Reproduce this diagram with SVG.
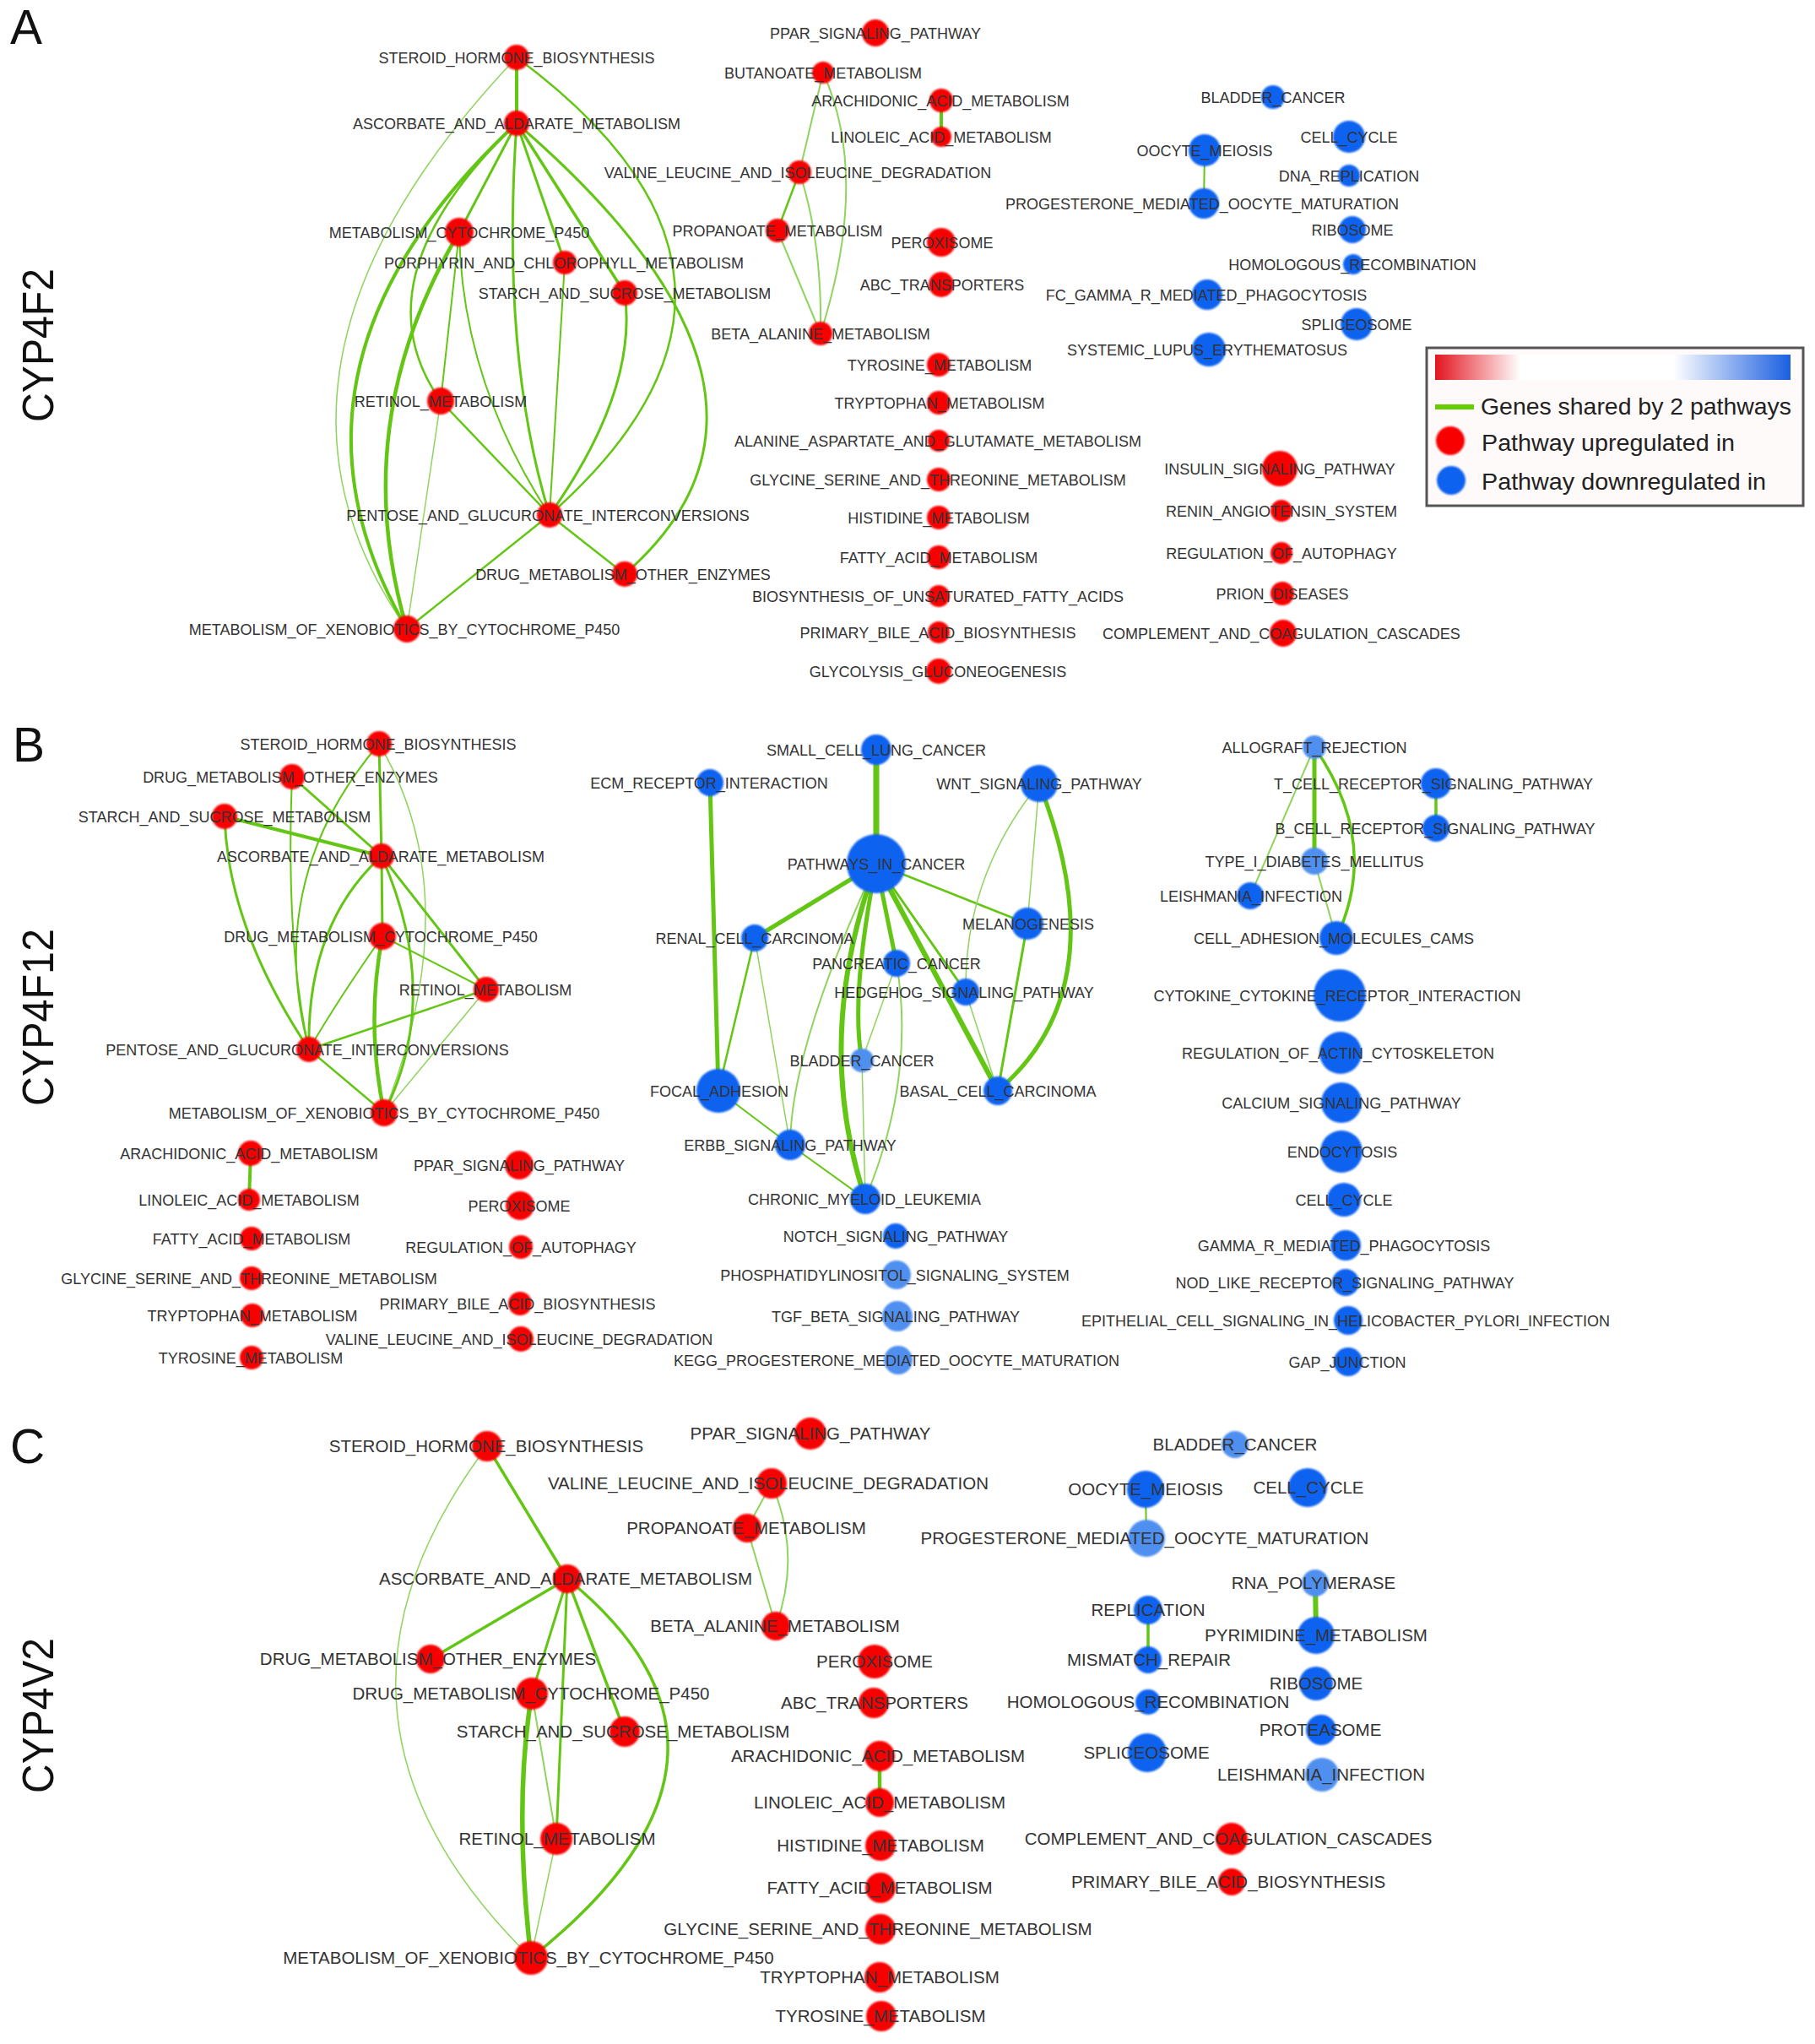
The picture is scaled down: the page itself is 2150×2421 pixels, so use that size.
<svg xmlns="http://www.w3.org/2000/svg" width="2150" height="2421" viewBox="0 0 2150 2421">
<defs>
<style>
.t{font-family:"Liberation Sans",Arial,sans-serif;font-size:18px;fill:#333;text-anchor:middle}
.tc{font-family:"Liberation Sans",Arial,sans-serif;font-size:20.5px;fill:#333;text-anchor:middle}
.r{fill:#f80000;filter:url(#soft)}
.b{fill:#1062f0;filter:url(#soft)}
.lb{fill:#4f8ff0;filter:url(#soft)}
.e{fill:none;stroke:#64c614;stroke-linecap:round}
.et{fill:none;stroke:#8fd45e;stroke-linecap:round}
.big{font-family:"Liberation Sans",Arial,sans-serif;fill:#111}
.leg{font-family:"Liberation Sans",Arial,sans-serif;font-size:28.5px;fill:#222}
</style>
<filter id="soft" x="-20%" y="-20%" width="140%" height="140%"><feGaussianBlur stdDeviation="1.1"/></filter>
<linearGradient id="grad" x1="0" y1="0" x2="1" y2="0">
<stop offset="0" stop-color="#e3141e"/>
<stop offset="0.24" stop-color="#ffffff"/>
<stop offset="0.67" stop-color="#ffffff"/>
<stop offset="1" stop-color="#1a5fe0"/>
</linearGradient>
</defs>
<rect width="2150" height="2421" fill="#ffffff"/>

<g id="panel-labels">
<text class="big" x="12" y="52" font-size="57">A</text>
<text class="big" x="15" y="902" font-size="57">B</text>
<text class="big" x="12" y="1733" font-size="57">C</text>
<text class="big" transform="translate(63,409) rotate(-90)" font-size="51" text-anchor="middle" textLength="182" lengthAdjust="spacingAndGlyphs">CYP4F2</text>
<text class="big" transform="translate(63,1205) rotate(-90)" font-size="51" text-anchor="middle" textLength="210" lengthAdjust="spacingAndGlyphs">CYP4F12</text>
<text class="big" transform="translate(63,2032) rotate(-90)" font-size="51" text-anchor="middle" textLength="184" lengthAdjust="spacingAndGlyphs">CYP4V2</text>
</g>

<g id="connectors">
<!-- Panel A left -->
<path class="e" stroke-width="4" d="M612,68 L612,146"/>
<path class="et" stroke-width="1.5" d="M612,68 Q264,434 482,745"/>
<path class="e" stroke-width="2.5" d="M612,68 Q967,331 651,610"/>
<path class="e" stroke-width="3" d="M612,146 Q985,467 740,680"/>
<path class="e" stroke-width="4" d="M612,146 Q302,435 482,745"/>
<path class="e" stroke-width="2.5" d="M612,146 Q420,330 522,475"/>
<path class="e" stroke-width="3" d="M612,146 L544,275"/>
<path class="e" stroke-width="3" d="M612,146 Q593,422 651,610"/>
<path class="e" stroke-width="3" d="M612,146 L669,311"/>
<path class="e" stroke-width="3.5" d="M612,146 L740,347"/>
<path class="e" stroke-width="4.5" d="M544,275 Q410,500 482,745"/>
<path class="e" stroke-width="2" d="M544,275 L522,475"/>
<path class="e" stroke-width="2" d="M544,275 Q547,451 651,610"/>
<path class="e" stroke-width="2.5" d="M522,475 L651,610"/>
<path class="et" stroke-width="1.5" d="M522,475 L482,745"/>
<path class="e" stroke-width="2" d="M669,311 L651,610"/>
<path class="e" stroke-width="3" d="M740,347 Q756,462 651,610"/>
<path class="e" stroke-width="2.5" d="M651,610 L740,680"/>
<path class="e" stroke-width="2.5" d="M651,610 L482,745"/>
<!-- Panel A middle -->
<path class="et" stroke-width="2" d="M975,86 L947,204"/>
<path class="et" stroke-width="2" d="M975,86 Q1031,210 972,395"/>
<path class="e" stroke-width="2.5" d="M947,204 L921,273"/>
<path class="et" stroke-width="2" d="M947,204 Q974,286 972,395"/>
<path class="et" stroke-width="2" d="M921,273 L972,395"/>
<path class="e" stroke-width="4" d="M1115,119 L1115,162"/>
<!-- Panel A right -->
<path class="e" stroke-width="2" d="M1427,178 L1426,241"/>

<!-- Panel B left -->
<path class="e" stroke-width="3" d="M449,881 L452,1014"/>
<path class="e" stroke-width="2" d="M449,881 Q312,1042 366,1243"/>
<path class="et" stroke-width="1.5" d="M449,881 Q556,1060 455,1318"/>
<path class="e" stroke-width="3" d="M346,920 L452,1014"/>
<path class="e" stroke-width="2" d="M346,920 Q338,1118 366,1243"/>
<path class="e" stroke-width="4" d="M266,967 L452,1014"/>
<path class="e" stroke-width="3" d="M266,967 Q270,1099 366,1243"/>
<path class="e" stroke-width="3" d="M452,1014 L453,1109"/>
<path class="e" stroke-width="3" d="M452,1014 L576,1172"/>
<path class="e" stroke-width="3" d="M452,1014 Q363,1095 366,1243"/>
<path class="e" stroke-width="3" d="M452,1014 Q525,1180 455,1318"/>
<path class="e" stroke-width="2" d="M453,1109 L576,1172"/>
<path class="e" stroke-width="2" d="M453,1109 Q403,1180 366,1243"/>
<path class="e" stroke-width="4.5" d="M453,1109 Q433,1212 455,1318"/>
<path class="e" stroke-width="2.5" d="M576,1172 L366,1243"/>
<path class="et" stroke-width="1.5" d="M576,1172 L455,1318"/>
<path class="e" stroke-width="2.5" d="M366,1243 L455,1318"/>
<path class="e" stroke-width="4" d="M297,1366 L295,1421"/>
<!-- Panel B middle -->
<path class="e" stroke-width="7" d="M1038,888 L1038,1023"/>
<path class="e" stroke-width="5" d="M841,927 L851,1292"/>
<path class="e" stroke-width="5" d="M1038,1023 L894,1111"/>
<path class="e" stroke-width="2.5" d="M1038,1023 L1217,1094"/>
<path class="e" stroke-width="5" d="M1038,1023 L1062,1141"/>
<path class="e" stroke-width="3" d="M1038,1023 L1144,1175"/>
<path class="e" stroke-width="6" d="M1038,1023 L1182,1292"/>
<path class="e" stroke-width="5" d="M1038,1023 Q1007,1181 1021,1256"/>
<path class="e" stroke-width="6" d="M1038,1023 Q962,1230 1025,1420"/>
<path class="et" stroke-width="2" d="M1038,1023 Q937,1240 936,1356"/>
<path class="e" stroke-width="2.5" d="M894,1111 L851,1292"/>
<path class="et" stroke-width="1.5" d="M894,1111 L936,1356"/>
<path class="e" stroke-width="2" d="M851,1292 L936,1356"/>
<path class="e" stroke-width="2" d="M936,1356 L1025,1420"/>
<path class="et" stroke-width="1.5" d="M1062,1141 L1021,1256"/>
<path class="et" stroke-width="2" d="M1062,1141 Q1085,1276 1025,1420"/>
<path class="et" stroke-width="1.5" d="M1021,1256 L1025,1420"/>
<path class="et" stroke-width="1.5" d="M1231,928 L1217,1094"/>
<path class="e" stroke-width="5" d="M1231,928 Q1325,1170 1182,1292"/>
<path class="et" stroke-width="1.5" d="M1231,928 Q1142,1038 1144,1175"/>
<path class="e" stroke-width="3" d="M1217,1094 L1182,1292"/>
<path class="et" stroke-width="1.5" d="M1144,1175 L1182,1292"/>
<!-- Panel B right -->
<path class="e" stroke-width="5" d="M1557,885 L1557,1020"/>
<path class="et" stroke-width="2" d="M1557,885 L1481,1061"/>
<path class="e" stroke-width="3.5" d="M1557,885 Q1636,998 1583,1111"/>
<path class="et" stroke-width="2" d="M1557,1020 L1583,1111"/>
<path class="e" stroke-width="3.5" d="M1701,928 L1701,981"/>

<!-- Panel C left -->
<path class="e" stroke-width="3.5" d="M577,1713 L672,1870"/>
<path class="et" stroke-width="1.5" d="M577,1713 Q337,2032 629,2319"/>
<path class="e" stroke-width="3.5" d="M672,1870 L510,1965"/>
<path class="e" stroke-width="3" d="M672,1870 L630,2006"/>
<path class="e" stroke-width="3" d="M672,1870 L659,2178"/>
<path class="e" stroke-width="3.5" d="M672,1870 L740,2051"/>
<path class="e" stroke-width="3.5" d="M672,1870 Q930,2080 629,2319"/>
<path class="e" stroke-width="5.5" d="M630,2006 Q608,2138 629,2319"/>
<path class="et" stroke-width="2" d="M630,2006 L659,2178"/>
<path class="et" stroke-width="1.5" d="M659,2178 L629,2319"/>
<!-- Panel C middle -->
<path class="et" stroke-width="2" d="M914,1757 L885,1810"/>
<path class="et" stroke-width="2" d="M914,1757 Q950,1842 919,1926"/>
<path class="et" stroke-width="2" d="M885,1810 L919,1926"/>
<path class="e" stroke-width="4.5" d="M1042,2080 L1042,2135"/>
<!-- Panel C right -->
<path class="e" stroke-width="2" d="M1357,1764 L1358,1822"/>
<path class="e" stroke-width="6" d="M1558,1875 L1559,1937"/>
<path class="e" stroke-width="3.5" d="M1360,1907 L1360,1966"/>
</g>

<!-- ============ PANEL A NODES ============ -->
<g id="a-steroid"><circle class="r" cx="612" cy="68" r="15"/><text class="t" x="612" y="74.5">STEROID_HORMONE_BIOSYNTHESIS</text></g>
<g id="a-ascorbate"><circle class="r" cx="612" cy="146" r="15"/><text class="t" x="612" y="152.5">ASCORBATE_AND_ALDARATE_METABOLISM</text></g>
<g id="a-cyp"><circle class="r" cx="544" cy="275" r="17"/><text class="t" x="544" y="281.5">METABOLISM_CYTOCHROME_P450</text></g>
<g id="a-porphyrin"><circle class="r" cx="669" cy="311" r="14"/><text class="t" x="668" y="317.5">PORPHYRIN_AND_CHLOROPHYLL_METABOLISM</text></g>
<g id="a-starch"><circle class="r" cx="740" cy="347" r="15"/><text class="t" x="740" y="353.5">STARCH_AND_SUCROSE_METABOLISM</text></g>
<g id="a-retinol"><circle class="r" cx="522" cy="475" r="16"/><text class="t" x="522" y="481.5">RETINOL_METABOLISM</text></g>
<g id="a-pentose"><circle class="r" cx="651" cy="610" r="15"/><text class="t" x="649" y="616.5">PENTOSE_AND_GLUCURONATE_INTERCONVERSIONS</text></g>
<g id="a-drugother"><circle class="r" cx="740" cy="680" r="15"/><text class="t" x="738" y="686.5">DRUG_METABOLISM_OTHER_ENZYMES</text></g>
<g id="a-xeno"><circle class="r" cx="482" cy="745" r="16"/><text class="t" x="479" y="751.5">METABOLISM_OF_XENOBIOTICS_BY_CYTOCHROME_P450</text></g>

<g id="a-ppar"><circle class="r" cx="1037" cy="39" r="16"/><text class="t" x="1037" y="45.5">PPAR_SIGNALING_PATHWAY</text></g>
<g id="a-butanoate"><circle class="r" cx="975" cy="86" r="13"/><text class="t" x="975" y="92.5">BUTANOATE_METABOLISM</text></g>
<g id="a-arachidonic"><circle class="r" cx="1115" cy="119" r="14"/><text class="t" x="1114" y="125.5">ARACHIDONIC_ACID_METABOLISM</text></g>
<g id="a-linoleic"><circle class="r" cx="1115" cy="162" r="12"/><text class="t" x="1115" y="168.5">LINOLEIC_ACID_METABOLISM</text></g>
<g id="a-valine"><circle class="r" cx="947" cy="204" r="14"/><text class="t" x="945" y="210.5">VALINE_LEUCINE_AND_ISOLEUCINE_DEGRADATION</text></g>
<g id="a-propanoate"><circle class="r" cx="921" cy="273" r="14"/><text class="t" x="921" y="279.5">PROPANOATE_METABOLISM</text></g>
<g id="a-peroxisome"><circle class="r" cx="1115" cy="287" r="17"/><text class="t" x="1116" y="293.5">PEROXISOME</text></g>
<g id="a-abc"><circle class="r" cx="1115" cy="337" r="15"/><text class="t" x="1116" y="343.5">ABC_TRANSPORTERS</text></g>
<g id="a-beta"><circle class="r" cx="972" cy="395" r="14"/><text class="t" x="972" y="401.5">BETA_ALANINE_METABOLISM</text></g>
<g id="a-tyrosine"><circle class="r" cx="1112" cy="432" r="14"/><text class="t" x="1113" y="438.5">TYROSINE_METABOLISM</text></g>
<g id="a-tryptophan"><circle class="r" cx="1112" cy="477" r="14"/><text class="t" x="1113" y="483.5">TRYPTOPHAN_METABOLISM</text></g>
<g id="a-alanine"><circle class="r" cx="1112" cy="522" r="13"/><text class="t" x="1111" y="528.5">ALANINE_ASPARTATE_AND_GLUTAMATE_METABOLISM</text></g>
<g id="a-glycine"><circle class="r" cx="1112" cy="568" r="14"/><text class="t" x="1111" y="574.5">GLYCINE_SERINE_AND_THREONINE_METABOLISM</text></g>
<g id="a-histidine"><circle class="r" cx="1112" cy="613" r="14"/><text class="t" x="1112" y="619.5">HISTIDINE_METABOLISM</text></g>
<g id="a-fatty"><circle class="r" cx="1112" cy="660" r="14"/><text class="t" x="1112" y="666.5">FATTY_ACID_METABOLISM</text></g>
<g id="a-biosyn"><circle class="r" cx="1112" cy="706" r="13"/><text class="t" x="1111" y="712.5">BIOSYNTHESIS_OF_UNSATURATED_FATTY_ACIDS</text></g>
<g id="a-bile"><circle class="r" cx="1112" cy="749" r="13"/><text class="t" x="1111" y="755.5">PRIMARY_BILE_ACID_BIOSYNTHESIS</text></g>
<g id="a-glycolysis"><circle class="r" cx="1112" cy="795" r="15"/><text class="t" x="1111" y="801.5">GLYCOLYSIS_GLUCONEOGENESIS</text></g>

<g id="a-bladder"><circle class="b" cx="1508" cy="115" r="14"/><text class="t" x="1508" y="121.5">BLADDER_CANCER</text></g>
<g id="a-oocyte"><circle class="b" cx="1427" cy="178" r="19"/><text class="t" x="1427" y="184.5">OOCYTE_MEIOSIS</text></g>
<g id="a-cellcycle"><circle class="b" cx="1598" cy="162" r="19"/><text class="t" x="1598" y="168.5">CELL_CYCLE</text></g>
<g id="a-dnarep"><circle class="b" cx="1598" cy="208" r="13"/><text class="t" x="1598" y="214.5">DNA_REPLICATION</text></g>
<g id="a-progesterone"><circle class="b" cx="1426" cy="241" r="18"/><text class="t" x="1424" y="247.5">PROGESTERONE_MEDIATED_OOCYTE_MATURATION</text></g>
<g id="a-ribosome"><circle class="b" cx="1602" cy="272" r="16"/><text class="t" x="1602" y="278.5">RIBOSOME</text></g>
<g id="a-homologous"><circle class="b" cx="1603" cy="313" r="12"/><text class="t" x="1602" y="319.5">HOMOLOGOUS_RECOMBINATION</text></g>
<g id="a-fcgamma"><circle class="b" cx="1430" cy="349" r="18"/><text class="t" x="1429" y="355.5">FC_GAMMA_R_MEDIATED_PHAGOCYTOSIS</text></g>
<g id="a-spliceosome"><circle class="b" cx="1607" cy="384" r="19"/><text class="t" x="1607" y="390.5">SPLICEOSOME</text></g>
<g id="a-systemic"><circle class="b" cx="1432" cy="414" r="20"/><text class="t" x="1430" y="420.5">SYSTEMIC_LUPUS_ERYTHEMATOSUS</text></g>
<g id="a-insulin"><circle class="r" cx="1516" cy="555" r="21"/><text class="t" x="1516" y="561.5">INSULIN_SIGNALING_PATHWAY</text></g>
<g id="a-renin"><circle class="r" cx="1518" cy="605" r="13"/><text class="t" x="1518" y="611.5">RENIN_ANGIOTENSIN_SYSTEM</text></g>
<g id="a-autophagy"><circle class="r" cx="1518" cy="655" r="13"/><text class="t" x="1518" y="661.5">REGULATION_OF_AUTOPHAGY</text></g>
<g id="a-prion"><circle class="r" cx="1519" cy="703" r="14"/><text class="t" x="1519" y="709.5">PRION_DISEASES</text></g>
<g id="a-complement"><circle class="r" cx="1520" cy="750" r="16"/><text class="t" x="1518" y="756.5">COMPLEMENT_AND_COAGULATION_CASCADES</text></g>

<g id="legend">
<rect x="1690" y="412" width="446" height="187" fill="#fffafa" stroke="#555" stroke-width="3"/>
<rect x="1700" y="420" width="421" height="30" fill="url(#grad)"/>
<line x1="1700" y1="482" x2="1746" y2="482" stroke="#66cc00" stroke-width="6"/>
<text class="leg" x="1754" y="491" textLength="368" lengthAdjust="spacingAndGlyphs">Genes shared by 2 pathways</text>
<circle class="r" cx="1718" cy="522" r="17"/>
<text class="leg" x="1755" y="534" textLength="300" lengthAdjust="spacingAndGlyphs">Pathway upregulated in</text>
<circle class="b" cx="1719" cy="569" r="17"/>
<text class="leg" x="1755" y="580" textLength="337" lengthAdjust="spacingAndGlyphs">Pathway downregulated in</text>
</g>

<!-- ============ PANEL B NODES ============ -->
<g id="b-steroid"><circle class="r" cx="449" cy="881" r="15"/><text class="t" x="448" y="887.5">STEROID_HORMONE_BIOSYNTHESIS</text></g>
<g id="b-drugother"><circle class="r" cx="346" cy="920" r="15"/><text class="t" x="344" y="926.5">DRUG_METABOLISM_OTHER_ENZYMES</text></g>
<g id="b-starch"><circle class="r" cx="266" cy="967" r="15"/><text class="t" x="266" y="973.5">STARCH_AND_SUCROSE_METABOLISM</text></g>
<g id="b-ascorbate"><circle class="r" cx="452" cy="1014" r="15"/><text class="t" x="451" y="1020.5">ASCORBATE_AND_ALDARATE_METABOLISM</text></g>
<g id="b-drugcyp"><circle class="r" cx="453" cy="1109" r="16"/><text class="t" x="451" y="1115.5">DRUG_METABOLISM_CYTOCHROME_P450</text></g>
<g id="b-retinol"><circle class="r" cx="576" cy="1172" r="15"/><text class="t" x="575" y="1178.5">RETINOL_METABOLISM</text></g>
<g id="b-pentose"><circle class="r" cx="366" cy="1243" r="15"/><text class="t" x="364" y="1249.5">PENTOSE_AND_GLUCURONATE_INTERCONVERSIONS</text></g>
<g id="b-xeno"><circle class="r" cx="455" cy="1318" r="16"/><text class="t" x="455" y="1324.5">METABOLISM_OF_XENOBIOTICS_BY_CYTOCHROME_P450</text></g>
<g id="b-arachidonic"><circle class="r" cx="297" cy="1366" r="15"/><text class="t" x="295" y="1372.5">ARACHIDONIC_ACID_METABOLISM</text></g>
<g id="b-linoleic"><circle class="r" cx="295" cy="1421" r="13"/><text class="t" x="295" y="1427.5">LINOLEIC_ACID_METABOLISM</text></g>
<g id="b-fatty"><circle class="r" cx="298" cy="1467" r="14"/><text class="t" x="298" y="1473.5">FATTY_ACID_METABOLISM</text></g>
<g id="b-glycine"><circle class="r" cx="298" cy="1514" r="14"/><text class="t" x="295" y="1520.5">GLYCINE_SERINE_AND_THREONINE_METABOLISM</text></g>
<g id="b-tryptophan"><circle class="r" cx="299" cy="1558" r="14"/><text class="t" x="299" y="1564.5">TRYPTOPHAN_METABOLISM</text></g>
<g id="b-tyrosine"><circle class="r" cx="298" cy="1608" r="14"/><text class="t" x="297" y="1614.5">TYROSINE_METABOLISM</text></g>
<g id="b-ppar"><circle class="r" cx="615" cy="1380" r="17"/><text class="t" x="615" y="1386.5">PPAR_SIGNALING_PATHWAY</text></g>
<g id="b-peroxisome"><circle class="r" cx="616" cy="1428" r="17"/><text class="t" x="615" y="1434.5">PEROXISOME</text></g>
<g id="b-autophagy"><circle class="r" cx="617" cy="1477" r="14"/><text class="t" x="617" y="1483.5">REGULATION_OF_AUTOPHAGY</text></g>
<g id="b-bile"><circle class="r" cx="616" cy="1544" r="14"/><text class="t" x="613" y="1550.5">PRIMARY_BILE_ACID_BIOSYNTHESIS</text></g>
<g id="b-valine"><circle class="r" cx="617" cy="1586" r="15"/><text class="t" x="615" y="1592.5">VALINE_LEUCINE_AND_ISOLEUCINE_DEGRADATION</text></g>

<g id="b-smallcell"><circle class="b" cx="1038" cy="888" r="18"/><text class="t" x="1038" y="894.5">SMALL_CELL_LUNG_CANCER</text></g>
<g id="b-ecm"><circle class="b" cx="841" cy="927" r="16"/><text class="t" x="840" y="933.5">ECM_RECEPTOR_INTERACTION</text></g>
<g id="b-wnt"><circle class="b" cx="1231" cy="928" r="22"/><text class="t" x="1231" y="934.5">WNT_SIGNALING_PATHWAY</text></g>
<g id="b-pathways"><circle class="b" cx="1038" cy="1023" r="35"/><text class="t" x="1038" y="1029.5">PATHWAYS_IN_CANCER</text></g>
<g id="b-renal"><circle class="b" cx="894" cy="1111" r="16"/><text class="t" x="894" y="1117.5">RENAL_CELL_CARCINOMA</text></g>
<g id="b-melano"><circle class="b" cx="1217" cy="1094" r="19"/><text class="t" x="1218" y="1100.5">MELANOGENESIS</text></g>
<g id="b-pancreatic"><circle class="b" cx="1062" cy="1141" r="16"/><text class="t" x="1062" y="1147.5">PANCREATIC_CANCER</text></g>
<g id="b-hedgehog"><circle class="b" cx="1144" cy="1175" r="16"/><text class="t" x="1142" y="1181.5">HEDGEHOG_SIGNALING_PATHWAY</text></g>
<g id="b-bladder"><circle class="lb" cx="1021" cy="1256" r="14"/><text class="t" x="1021" y="1262.5">BLADDER_CANCER</text></g>
<g id="b-focal"><circle class="b" cx="851" cy="1292" r="26"/><text class="t" x="852" y="1298.5">FOCAL_ADHESION</text></g>
<g id="b-basal"><circle class="b" cx="1182" cy="1292" r="17"/><text class="t" x="1182" y="1298.5">BASAL_CELL_CARCINOMA</text></g>
<g id="b-erbb"><circle class="b" cx="936" cy="1356" r="18"/><text class="t" x="936" y="1362.5">ERBB_SIGNALING_PATHWAY</text></g>
<g id="b-cml"><circle class="b" cx="1025" cy="1420" r="18"/><text class="t" x="1024" y="1426.5">CHRONIC_MYELOID_LEUKEMIA</text></g>
<g id="b-notch"><circle class="b" cx="1061" cy="1464" r="15"/><text class="t" x="1061" y="1470.5">NOTCH_SIGNALING_PATHWAY</text></g>
<g id="b-phospho"><circle class="lb" cx="1062" cy="1510" r="17"/><text class="t" x="1060" y="1516.5">PHOSPHATIDYLINOSITOL_SIGNALING_SYSTEM</text></g>
<g id="b-tgf"><circle class="lb" cx="1063" cy="1559" r="18"/><text class="t" x="1061" y="1565.5">TGF_BETA_SIGNALING_PATHWAY</text></g>
<g id="b-kegg"><circle class="lb" cx="1064" cy="1611" r="17"/><text class="t" x="1062" y="1617.5">KEGG_PROGESTERONE_MEDIATED_OOCYTE_MATURATION</text></g>

<g id="b-allograft"><circle class="lb" cx="1557" cy="885" r="14"/><text class="t" x="1557" y="891.5">ALLOGRAFT_REJECTION</text></g>
<g id="b-tcell"><circle class="b" cx="1701" cy="928" r="18"/><text class="t" x="1698" y="934.5">T_CELL_RECEPTOR_SIGNALING_PATHWAY</text></g>
<g id="b-bcell"><circle class="b" cx="1701" cy="981" r="16"/><text class="t" x="1700" y="987.5">B_CELL_RECEPTOR_SIGNALING_PATHWAY</text></g>
<g id="b-type1"><circle class="lb" cx="1557" cy="1020" r="16"/><text class="t" x="1557" y="1026.5">TYPE_I_DIABETES_MELLITUS</text></g>
<g id="b-leish"><circle class="b" cx="1481" cy="1061" r="16"/><text class="t" x="1482" y="1067.5">LEISHMANIA_INFECTION</text></g>
<g id="b-cams"><circle class="b" cx="1583" cy="1111" r="20"/><text class="t" x="1580" y="1117.5">CELL_ADHESION_MOLECULES_CAMS</text></g>
<g id="b-cytokine"><circle class="b" cx="1587" cy="1179" r="31"/><text class="t" x="1584" y="1185.5">CYTOKINE_CYTOKINE_RECEPTOR_INTERACTION</text></g>
<g id="b-actin"><circle class="b" cx="1588" cy="1247" r="25"/><text class="t" x="1585" y="1253.5">REGULATION_OF_ACTIN_CYTOSKELETON</text></g>
<g id="b-calcium"><circle class="b" cx="1589" cy="1306" r="24"/><text class="t" x="1589" y="1312.5">CALCIUM_SIGNALING_PATHWAY</text></g>
<g id="b-endo"><circle class="b" cx="1589" cy="1364" r="25"/><text class="t" x="1590" y="1370.5">ENDOCYTOSIS</text></g>
<g id="b-cellcycle"><circle class="b" cx="1592" cy="1421" r="20"/><text class="t" x="1592" y="1427.5">CELL_CYCLE</text></g>
<g id="b-gamma"><circle class="b" cx="1594" cy="1475" r="18"/><text class="t" x="1592" y="1481.5">GAMMA_R_MEDIATED_PHAGOCYTOSIS</text></g>
<g id="b-nod"><circle class="b" cx="1594" cy="1519" r="16"/><text class="t" x="1593" y="1525.5">NOD_LIKE_RECEPTOR_SIGNALING_PATHWAY</text></g>
<g id="b-epithelial"><circle class="b" cx="1597" cy="1564" r="17"/><text class="t" x="1594" y="1570.5">EPITHELIAL_CELL_SIGNALING_IN_HELICOBACTER_PYLORI_INFECTION</text></g>
<g id="b-gap"><circle class="b" cx="1597" cy="1613" r="17"/><text class="t" x="1596" y="1619.5">GAP_JUNCTION</text></g>

<!-- ============ PANEL C NODES ============ -->
<g id="c-steroid"><circle class="r" cx="577" cy="1713" r="18"/><text class="tc" x="576" y="1720.4">STEROID_HORMONE_BIOSYNTHESIS</text></g>
<g id="c-ascorbate"><circle class="r" cx="672" cy="1870" r="17"/><text class="tc" x="670" y="1877.4">ASCORBATE_AND_ALDARATE_METABOLISM</text></g>
<g id="c-drugother"><circle class="r" cx="510" cy="1965" r="17"/><text class="tc" x="507" y="1972.4">DRUG_METABOLISM_OTHER_ENZYMES</text></g>
<g id="c-drugcyp"><circle class="r" cx="630" cy="2006" r="19"/><text class="tc" x="629" y="2013.4">DRUG_METABOLISM_CYTOCHROME_P450</text></g>
<g id="c-starch"><circle class="r" cx="740" cy="2051" r="18"/><text class="tc" x="738" y="2058.4">STARCH_AND_SUCROSE_METABOLISM</text></g>
<g id="c-retinol"><circle class="r" cx="659" cy="2178" r="19"/><text class="tc" x="660" y="2185.4">RETINOL_METABOLISM</text></g>
<g id="c-xeno"><circle class="r" cx="629" cy="2319" r="20"/><text class="tc" x="626" y="2326.4">METABOLISM_OF_XENOBIOTICS_BY_CYTOCHROME_P450</text></g>

<g id="c-ppar"><circle class="r" cx="960" cy="1698" r="19"/><text class="tc" x="960" y="1705.4">PPAR_SIGNALING_PATHWAY</text></g>
<g id="c-valine"><circle class="r" cx="914" cy="1757" r="18"/><text class="tc" x="910" y="1764.4">VALINE_LEUCINE_AND_ISOLEUCINE_DEGRADATION</text></g>
<g id="c-propanoate"><circle class="r" cx="885" cy="1810" r="17"/><text class="tc" x="884" y="1817.4">PROPANOATE_METABOLISM</text></g>
<g id="c-beta"><circle class="r" cx="919" cy="1926" r="17"/><text class="tc" x="918" y="1933.4">BETA_ALANINE_METABOLISM</text></g>
<g id="c-peroxisome"><circle class="r" cx="1036" cy="1968" r="20"/><text class="tc" x="1036" y="1975.4">PEROXISOME</text></g>
<g id="c-abc"><circle class="r" cx="1035" cy="2017" r="18"/><text class="tc" x="1036" y="2024.4">ABC_TRANSPORTERS</text></g>
<g id="c-arachidonic"><circle class="r" cx="1042" cy="2080" r="18"/><text class="tc" x="1040" y="2087.4">ARACHIDONIC_ACID_METABOLISM</text></g>
<g id="c-linoleic"><circle class="r" cx="1042" cy="2135" r="17"/><text class="tc" x="1042" y="2142.4">LINOLEIC_ACID_METABOLISM</text></g>
<g id="c-histidine"><circle class="r" cx="1043" cy="2186" r="18"/><text class="tc" x="1043" y="2193.4">HISTIDINE_METABOLISM</text></g>
<g id="c-fatty"><circle class="r" cx="1043" cy="2236" r="18"/><text class="tc" x="1042" y="2243.4">FATTY_ACID_METABOLISM</text></g>
<g id="c-glycine"><circle class="r" cx="1043" cy="2285" r="18"/><text class="tc" x="1040" y="2292.4">GLYCINE_SERINE_AND_THREONINE_METABOLISM</text></g>
<g id="c-tryptophan"><circle class="r" cx="1042" cy="2342" r="18"/><text class="tc" x="1042" y="2349.4">TRYPTOPHAN_METABOLISM</text></g>
<g id="c-tyrosine"><circle class="r" cx="1044" cy="2388" r="18"/><text class="tc" x="1043" y="2395.4">TYROSINE_METABOLISM</text></g>

<g id="c-bladder"><circle class="lb" cx="1463" cy="1711" r="16"/><text class="tc" x="1463" y="1718.4">BLADDER_CANCER</text></g>
<g id="c-oocyte"><circle class="b" cx="1357" cy="1764" r="22"/><text class="tc" x="1357" y="1771.4">OOCYTE_MEIOSIS</text></g>
<g id="c-cellcycle"><circle class="b" cx="1549" cy="1762" r="23"/><text class="tc" x="1550" y="1769.4">CELL_CYCLE</text></g>
<g id="c-progesterone"><circle class="lb" cx="1358" cy="1822" r="22"/><text class="tc" x="1356" y="1829.4">PROGESTERONE_MEDIATED_OOCYTE_MATURATION</text></g>
<g id="c-rnapol"><circle class="lb" cx="1558" cy="1875" r="16"/><text class="tc" x="1556" y="1882.4">RNA_POLYMERASE</text></g>
<g id="c-replication"><circle class="b" cx="1360" cy="1907" r="17"/><text class="tc" x="1360" y="1914.4">REPLICATION</text></g>
<g id="c-pyrimidine"><circle class="b" cx="1559" cy="1937" r="22"/><text class="tc" x="1559" y="1944.4">PYRIMIDINE_METABOLISM</text></g>
<g id="c-mismatch"><circle class="b" cx="1360" cy="1966" r="16"/><text class="tc" x="1361" y="1973.4">MISMATCH_REPAIR</text></g>
<g id="c-ribosome"><circle class="b" cx="1559" cy="1994" r="20"/><text class="tc" x="1559" y="2001.4">RIBOSOME</text></g>
<g id="c-homologous"><circle class="b" cx="1360" cy="2016" r="15"/><text class="tc" x="1360" y="2023.4">HOMOLOGOUS_RECOMBINATION</text></g>
<g id="c-proteasome"><circle class="b" cx="1565" cy="2049" r="18"/><text class="tc" x="1564" y="2056.4">PROTEASOME</text></g>
<g id="c-spliceosome"><circle class="b" cx="1359" cy="2076" r="23"/><text class="tc" x="1358" y="2083.4">SPLICEOSOME</text></g>
<g id="c-leish"><circle class="lb" cx="1566" cy="2102" r="20"/><text class="tc" x="1565" y="2109.4">LEISHMANIA_INFECTION</text></g>
<g id="c-complement"><circle class="r" cx="1459" cy="2178" r="19"/><text class="tc" x="1455" y="2185.4">COMPLEMENT_AND_COAGULATION_CASCADES</text></g>
<g id="c-bile"><circle class="r" cx="1459" cy="2229" r="16"/><text class="tc" x="1455" y="2236.4">PRIMARY_BILE_ACID_BIOSYNTHESIS</text></g>
</svg>
